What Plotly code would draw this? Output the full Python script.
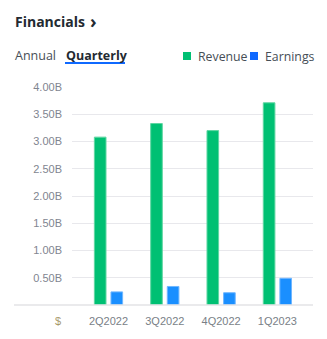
import plotly.graph_objects as go

categories = ["2Q2022", "3Q2022", "4Q2022", "1Q2023"]
revenue = [3.08e9, 3.33e9, 3.20e9, 3.71e9]
earnings = [0.24e9, 0.34e9, 0.225e9, 0.49e9]
tick_vals = [0.5e9, 1.0e9, 1.5e9, 2.0e9, 2.5e9, 3.0e9, 3.5e9, 4.0e9]
tick_text = ["0.50B", "1.00B", "1.50B", "2.00B", "2.50B", "3.00B", "3.50B", "4.00B"]

W, H = 327, 339
L, R, T, B = 72, 14, 87, 34

fig = go.Figure()
fig.add_bar(x=categories, y=revenue, name="Revenue",
            marker=dict(color="#00c073", line=dict(color="#5fd6a2", width=1)))
fig.add_bar(x=categories, y=earnings, name="Earnings",
            marker=dict(color="#1a8fff", line=dict(color="#6fb6ff", width=1)))

def px(x):
    return (x - L) / (W - L - R)

def py(y):
    return (H - B - y) / (H - T - B)

shapes = [
    dict(type="line", xref="paper", yref="paper", x0=px(14), x1=1, y0=0, y1=0,
         line=dict(color="#e3e3e6", width=1.5), layer="above"),
    dict(type="line", xref="paper", yref="paper", x0=px(65), x1=px(125), y0=py(63), y1=py(63),
         line=dict(color="#0f69ff", width=2)),
    dict(type="rect", xref="paper", yref="paper", x0=px(183), x1=px(191), y0=py(60), y1=py(52),
         fillcolor="#00c073", line=dict(width=0)),
    dict(type="rect", xref="paper", yref="paper", x0=px(250), x1=px(258), y0=py(60), y1=py(52),
         fillcolor="#0f69ff", line=dict(width=0)),
]

txt = "#464e56"
annotations = [
    dict(text="<b>Financials</b>", x=px(13), y=py(22), xref="paper", yref="paper",
         xanchor="left", yanchor="middle", showarrow=False,
         font=dict(family="Open Sans", size=14, color="#232a31")),
    dict(text="<b>›</b>", x=px(93.5), y=py(21), xref="paper", yref="paper",
         xanchor="center", yanchor="middle", showarrow=False,
         font=dict(family="Open Sans", size=18, color="#232a31")),
    dict(text="Annual", x=px(13), y=py(55), xref="paper", yref="paper",
         xanchor="left", yanchor="middle", showarrow=False,
         font=dict(family="Open Sans", size=12.5, color=txt)),
    dict(text="<b>Quarterly</b>", x=px(64), y=py(55), xref="paper", yref="paper",
         xanchor="left", yanchor="middle", showarrow=False,
         font=dict(family="Open Sans", size=12.5, color="#232a31")),
    dict(text="Revenue", x=px(196), y=py(56), xref="paper", yref="paper",
         xanchor="left", yanchor="middle", showarrow=False,
         font=dict(family="Open Sans", size=12.3, color=txt)),
    dict(text="Earnings", x=px(263), y=py(56), xref="paper", yref="paper",
         xanchor="left", yanchor="middle", showarrow=False,
         font=dict(family="Open Sans", size=12.3, color=txt)),
    dict(text="$", x=px(58), y=py(321), xref="paper", yref="paper",
         xanchor="center", yanchor="middle", showarrow=False,
         font=dict(family="Liberation Sans", size=11, color="#a8996c")),
]

fig.update_layout(
    width=W, height=H,
    margin=dict(l=L, r=R, t=T, b=B, pad=0),
    paper_bgcolor="white", plot_bgcolor="white",
    barmode="group", bargap=0.41, bargroupgap=0.3,
    showlegend=False,
    shapes=shapes, annotations=annotations,
    xaxis=dict(type="category", range=[-0.648, 3.632], showgrid=False, zeroline=False,
               showline=False, ticks="", ticklabelstandoff=8,
               tickfont=dict(family="Liberation Sans", size=11, color="#7a7f87")),
    yaxis=dict(range=[0, 4.0e9], tickvals=tick_vals, ticktext=tick_text,
               showgrid=True, gridcolor="#e8e8ec", gridwidth=1, zeroline=False,
               showline=False, ticks="", ticklabelstandoff=9,
               tickfont=dict(family="Liberation Sans", size=11, color="#7f8590")),
)

fig.write_html("out.html")
